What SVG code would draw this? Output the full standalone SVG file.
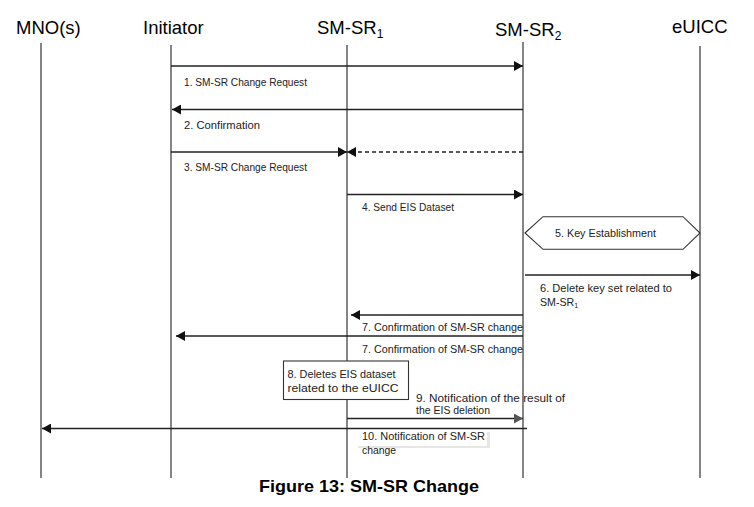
<svg xmlns="http://www.w3.org/2000/svg" width="754" height="507" viewBox="0 0 754 507">
<style>
.hd{font-family:"Liberation Sans",Arial,sans-serif;font-size:18.5px;fill:#000}
.sub{font-size:12px}
.lb{font-family:"Liberation Sans",Arial,sans-serif;font-size:10.6px;fill:#222}
.life{stroke:#333;stroke-width:1.2;fill:none}
.msg{stroke:#222;stroke-width:1.3;fill:none}
.box{fill:#fff;stroke:#333;stroke-width:1.1}
.cap{font-family:"Liberation Sans",Arial,sans-serif;font-size:17px;font-weight:bold;fill:#000}
</style>
<defs>
<marker id="ah" viewBox="0 0 9 10" refX="9" refY="5" markerWidth="9" markerHeight="10" markerUnits="userSpaceOnUse" orient="auto">
<path d="M0,0 L9,5 L0,10 z" fill="#111"/>
</marker>
<marker id="ahg" viewBox="0 0 9 10" refX="9" refY="5" markerWidth="9" markerHeight="10" markerUnits="userSpaceOnUse" orient="auto">
<path d="M0,0 L9,5 L0,10 z" fill="#555"/>
</marker>
</defs>
<rect width="754" height="507" fill="#fff"/>

<g id="mno">
<text class="hd" x="16" y="34">MNO(s)</text>
<line class="life" x1="41" y1="43" x2="41" y2="478"/>
</g>
<g id="initiator">
<text class="hd" x="143" y="34">Initiator</text>
<line class="life" x1="171" y1="45" x2="171" y2="478"/>
</g>
<g id="smsr1">
<text class="hd" x="317" y="34">SM-SR<tspan class="sub" dy="4">1</tspan></text>
<line class="life" x1="347" y1="45" x2="347" y2="478"/>
</g>
<g id="smsr2">
<text class="hd" x="495" y="36">SM-SR<tspan class="sub" dy="4">2</tspan></text>
<line class="life" x1="523" y1="42" x2="523" y2="478"/>
</g>
<g id="euicc">
<text class="hd" x="672" y="33">eUICC</text>
<line class="life" x1="700" y1="46" x2="700" y2="478"/>
</g>

<g id="connectors">
<line class="msg" x1="171" y1="66" x2="523" y2="66" marker-end="url(#ah)"/>
<line class="msg" x1="523" y1="109.5" x2="172" y2="109.5" marker-end="url(#ah)"/>
<line class="msg" x1="171" y1="152" x2="347" y2="152" marker-end="url(#ah)"/>
<line class="msg" x1="523" y1="152" x2="347" y2="152" stroke-dasharray="4,3" marker-end="url(#ah)"/>
<line class="msg" x1="347" y1="194.5" x2="523" y2="194.5" marker-end="url(#ah)"/>
<line class="msg" x1="525" y1="275" x2="700" y2="275" marker-end="url(#ah)"/>
<line class="msg" x1="523" y1="315" x2="351" y2="315" marker-end="url(#ah)"/>
<line class="msg" x1="523" y1="336" x2="176" y2="336" marker-end="url(#ah)"/>
<line class="msg" x1="347" y1="418.5" x2="523" y2="418.5" stroke="#555" marker-end="url(#ahg)"/>
<line class="msg" x1="527" y1="428.5" x2="42" y2="428.5" stroke="#333" marker-end="url(#ah)"/>
</g>

<g id="labels">
<text class="lb" x="184" y="86" textLength="123" lengthAdjust="spacingAndGlyphs">1. SM-SR Change Request</text>
<text class="lb" x="184" y="129" textLength="76" lengthAdjust="spacingAndGlyphs">2. Confirmation</text>
<text class="lb" x="184" y="171" textLength="123" lengthAdjust="spacingAndGlyphs">3. SM-SR Change Request</text>
<text class="lb" x="362" y="211" textLength="92" lengthAdjust="spacingAndGlyphs">4. Send EIS Dataset</text>
<text class="lb" x="540" y="292" textLength="132" lengthAdjust="spacingAndGlyphs">6. Delete key set related to</text>
<text class="lb" x="540" y="306">SM-SR<tspan font-size="7" dy="2">1</tspan></text>
<text class="lb" x="362" y="331" textLength="161" lengthAdjust="spacingAndGlyphs">7. Confirmation of SM-SR change</text>
<text class="lb" x="362" y="353" textLength="161" lengthAdjust="spacingAndGlyphs">7. Confirmation of SM-SR change</text>
<text class="lb" x="416" y="402" textLength="149" lengthAdjust="spacingAndGlyphs">9. Notification of the result of</text>
<text class="lb" x="416" y="414" textLength="74" lengthAdjust="spacingAndGlyphs">the EIS deletion</text>
</g>

<g id="key-establishment">
<polygon class="box" points="525,233 543,216.7 683,216.7 700,233 683,249.3 543,249.3"/>
<text class="lb" x="555" y="237" textLength="101" lengthAdjust="spacingAndGlyphs">5. Key Establishment</text>
</g>

<g id="delete-eis">
<rect class="box" x="283.5" y="361" width="125" height="38.5"/>
<text class="lb" x="287.5" y="378" textLength="108" lengthAdjust="spacingAndGlyphs">8. Deletes EIS dataset</text>
<text class="lb" x="287.5" y="392" textLength="111" lengthAdjust="spacingAndGlyphs">related to the eUICC</text>
</g>

<g id="notification-label">
<rect x="358" y="432" width="132" height="16" fill="#e6e6e6"/>
<rect x="356" y="430" width="131" height="16" fill="#fff"/>
<text class="lb" x="362" y="440" textLength="123" lengthAdjust="spacingAndGlyphs">10. Notification of SM-SR</text>
<text class="lb" x="362" y="454" textLength="34" lengthAdjust="spacingAndGlyphs">change</text>
</g>

<text class="cap" x="259" y="492" textLength="220" lengthAdjust="spacingAndGlyphs">Figure 13: SM-SR Change</text>
</svg>
